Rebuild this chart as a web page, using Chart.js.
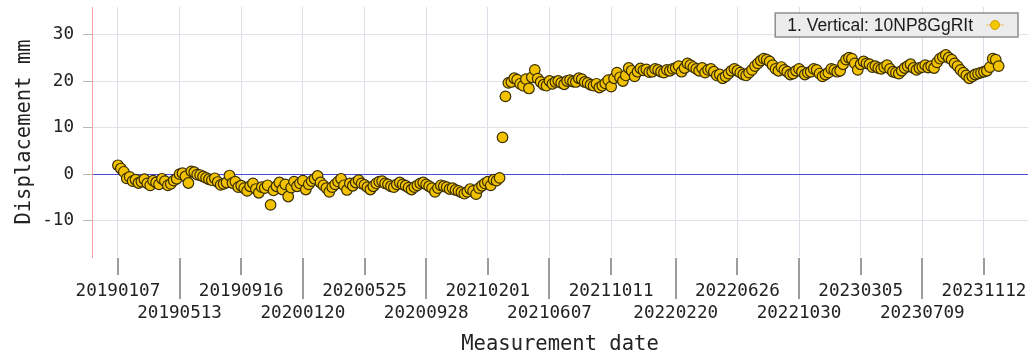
<!DOCTYPE html>
<html>
<head>
<meta charset="utf-8">
<title>Displacement – 10NP8GgRIt</title>
<script src="https://cdn.jsdelivr.net/npm/chart.js@4.4.4/dist/chart.umd.min.js"></script>
<style>
    html, body { margin: 0; padding: 0; background: #fff; }
    #wrap { position: relative; width: 1028px; height: 357px; }
</style>
</head>
<body>
<div id="wrap"><canvas id="chart-displacement"></canvas></div>
<script>
// ─── Data ────────────────────────────────────────────────────────────────────

const SERIES_LABEL = '1. Vertical: 10NP8GgRIt';

// acquisition dates (YYYYMMDD), 6-day revisit
const DATES = [
    // 2019
    '20190107', '20190113', '20190119', '20190125', '20190131',
    '20190206', '20190212', '20190218', '20190224',
    '20190302', '20190308', '20190314', '20190320', '20190326',
    '20190401', '20190407', '20190413', '20190419', '20190425',
    '20190501', '20190507', '20190513', '20190519', '20190525', '20190531',
    '20190606', '20190612', '20190618', '20190624', '20190630',
    '20190706', '20190712', '20190718', '20190724', '20190730',
    '20190805', '20190811', '20190817', '20190823', '20190829',
    '20190904', '20190910', '20190916', '20190922', '20190928',
    '20191004', '20191010', '20191016', '20191022', '20191028',
    '20191103', '20191109', '20191115', '20191121', '20191127',
    '20191203', '20191209', '20191215', '20191221', '20191227',
    // 2020
    '20200102', '20200108', '20200114', '20200120', '20200126',
    '20200201', '20200207', '20200213', '20200219', '20200225',
    '20200302', '20200308', '20200314', '20200320', '20200326',
    '20200401', '20200407', '20200413', '20200419', '20200425',
    '20200501', '20200507', '20200513', '20200519', '20200525', '20200531',
    '20200606', '20200612', '20200618', '20200624', '20200630',
    '20200706', '20200712', '20200718', '20200724', '20200730',
    '20200805', '20200811', '20200817', '20200823', '20200829',
    '20200904', '20200910', '20200916', '20200922', '20200928',
    '20201004', '20201010', '20201016', '20201022', '20201028',
    '20201103', '20201109', '20201115', '20201121', '20201127',
    '20201203', '20201209', '20201215', '20201221', '20201227',
    // 2021
    '20210102', '20210108', '20210114', '20210120', '20210126',
    '20210201', '20210207', '20210213', '20210219', '20210225',
    '20210303', '20210309', '20210315', '20210321', '20210327',
    '20210402', '20210408', '20210414', '20210420', '20210426',
    '20210502', '20210508', '20210514', '20210520', '20210526',
    '20210601', '20210607', '20210613', '20210619', '20210625',
    '20210701', '20210707', '20210713', '20210719', '20210725', '20210731',
    '20210806', '20210812', '20210818', '20210824', '20210830',
    '20210905', '20210911', '20210917', '20210923', '20210929',
    '20211005', '20211011', '20211017', '20211023', '20211029',
    '20211104', '20211110', '20211116', '20211122', '20211128',
    '20211204', '20211210', '20211216', '20211222', '20211228',
    // 2022
    '20220103', '20220109', '20220115', '20220121', '20220127',
    '20220202', '20220208', '20220214', '20220220', '20220226',
    '20220304', '20220310', '20220316', '20220322', '20220328',
    '20220403', '20220409', '20220415', '20220421', '20220427',
    '20220503', '20220509', '20220515', '20220521', '20220527',
    '20220602', '20220608', '20220614', '20220620', '20220626',
    '20220702', '20220708', '20220714', '20220720', '20220726',
    '20220801', '20220807', '20220813', '20220819', '20220825', '20220831',
    '20220906', '20220912', '20220918', '20220924', '20220930',
    '20221006', '20221012', '20221018', '20221024', '20221030',
    '20221105', '20221111', '20221117', '20221123', '20221129',
    '20221205', '20221211', '20221217', '20221223', '20221229',
    // 2023
    '20230104', '20230110', '20230116', '20230122', '20230128',
    '20230203', '20230209', '20230215', '20230221', '20230227',
    '20230305', '20230311', '20230317', '20230323', '20230329',
    '20230404', '20230410', '20230416', '20230422', '20230428',
    '20230504', '20230510', '20230516', '20230522', '20230528',
    '20230603', '20230609', '20230615', '20230621', '20230627',
    '20230703', '20230709', '20230715', '20230721', '20230727',
    '20230802', '20230808', '20230814', '20230820', '20230826',
    '20230901', '20230907', '20230913', '20230919', '20230925',
    '20231001', '20231007', '20231013', '20231019', '20231025', '20231031',
    '20231106', '20231112', '20231118', '20231124', '20231130',
    '20231206', '20231212'
];

// vertical displacement (mm), one per date
const VERTICAL_MM = [
    // 2019
    1.9, 1.2, 0.5, -0.9, -0.6,
    -1.5, -1.2, -1.9, -1.6,
    -1.1, -2.0, -2.4, -1.4, -1.8,
    -2.2, -1.0, -1.5, -2.4, -2.1,
    -1.4, -1.0, 0.0, 0.2, -0.5, -1.9,
    0.6, 0.4, -0.1, -0.2, -0.5,
    -0.8, -1.1, -1.3, -0.9, -1.7,
    -2.3, -2.1, -1.8, -0.3, -1.9,
    -1.6, -2.8, -2.5, -3.0, -3.6,
    -2.6, -2.0, -3.2, -4.0, -2.8,
    -3.0, -2.4, -6.6, -3.5, -2.6,
    -1.8, -3.3, -2.2, -4.8, -2.9,
    // 2020
    -1.6, -2.6, -2.0, -1.4, -3.3,
    -2.2, -1.5, -1.0, -0.4, -1.8,
    -2.4, -3.0, -3.8, -2.8, -2.2,
    -1.6, -1.0, -2.4, -3.4, -2.0,
    -2.5, -1.8, -1.3, -2.0, -2.3, -2.8,
    -3.3, -2.6, -2.0, -1.6, -1.5,
    -2.0, -2.2, -2.6, -2.8, -2.2,
    -1.8, -2.2, -2.5, -2.9, -3.3,
    -2.8, -2.4, -2.0, -1.8, -2.2,
    -2.6, -3.0, -3.8, -3.0, -2.4,
    -2.6, -2.8, -3.2, -3.0, -3.4,
    -3.6, -3.9, -4.2, -3.8, -3.2,
    // 2021
    -3.6, -4.3, -3.0, -2.5, -2.0,
    -1.6, -2.4, -1.2, -1.4, -0.8,
    7.9, 16.7, 19.6, 19.8, 20.6,
    20.3, 19.4, 19.0, 20.4, 18.4,
    20.8, 22.4, 20.5, 19.8, 19.2,
    19.0, 20.0, 19.4, 19.8, 20.0,
    19.6, 19.3, 20.0, 20.2, 19.9, 19.8,
    20.6, 20.4, 19.8, 19.6, 19.2,
    19.0, 19.4, 18.6, 19.0, 19.5,
    20.2, 18.8, 20.6, 21.8, 20.8,
    20.0, 21.2, 22.8, 22.2, 21.0,
    22.0, 22.7, 22.3, 22.5, 21.9,
    // 2022
    22.0, 22.6, 22.4, 22.0, 21.8,
    22.4, 22.2, 22.6, 22.8, 23.2,
    22.0, 22.8, 23.8, 23.4, 23.0,
    22.6, 22.2, 22.8, 21.8, 22.4,
    22.6, 22.0, 21.2, 21.4, 20.6,
    21.0, 21.6, 22.2, 22.6, 22.2,
    21.8, 21.4, 21.2, 21.8, 22.4,
    23.2, 23.8, 24.4, 24.8, 24.6, 24.2,
    23.4, 22.6, 22.2, 23.0, 22.4,
    22.0, 21.4, 21.6, 22.2, 22.6,
    22.0, 21.4, 21.8, 22.0, 22.6,
    22.4, 21.6, 21.0, 21.4, 21.8,
    // 2023
    22.6, 22.4, 22.0, 22.2, 23.6,
    24.6, 25.0, 24.8, 23.8, 22.4,
    23.6, 24.2, 23.8, 23.6, 23.0,
    23.2, 22.8, 22.6, 23.0, 23.4,
    22.6, 22.0, 21.8, 21.6, 22.2,
    22.8, 23.2, 23.6, 22.8, 22.4,
    22.8, 23.0, 23.4, 22.9, 23.2,
    22.8, 24.0, 24.8, 25.2, 25.6,
    25.0, 24.6, 23.8, 23.2, 22.4,
    21.8, 21.2, 20.6, 21.0, 21.4, 21.6,
    21.8, 22.0, 22.2, 23.0, 24.8,
    24.6, 23.2
];

// x tick labels (every 126 days), drawn in two alternating rows
const TICK_DATES = [
    '20190107', '20190513', '20190916', '20200120', '20200525', '20200928', '20210201', '20210607',
    '20211011', '20220220', '20220626', '20221030', '20230305', '20230709', '20231112'
];

const Y_TICKS = [-10, 0, 10, 20, 30];

// axis ranges
const X_RANGE = ['20181115', '20240210'];
const Y_MIN = -17.8;
const Y_MAX = 35.9;

// ─── Helpers ─────────────────────────────────────────────────────────────────

const MONO_FAMILY = "'DejaVu Sans Mono', monospace";
const TICK_FONT = { family: MONO_FAMILY, size: 17.6, lineHeight: 1.3 };
const TITLE_FONT = { family: MONO_FAMILY, size: 20.5, lineHeight: 1.2 };
const TEXT_COLOR = '#222';

// days since epoch for a YYYYMMDD string
function dayOf(s) {
    const y = +s.slice(0, 4), m = +s.slice(4, 6), d = +s.slice(6, 8);
    return Date.UTC(y, m - 1, d) / 86400000;
}

// ─── Plugins ─────────────────────────────────────────────────────────────────

// tick marks under the plot: short for the top row, long for the bottom row
const dateTickMarks = {
    id: 'dateTickMarks',
    afterDraw(chart) {
        const { ctx, chartArea } = chart;
        const scale = chart.scales.x;
        ctx.save();
        ctx.strokeStyle = '#9c9c9c';
        ctx.lineWidth = 2;
        scale.ticks.forEach((t, i) => {
            const x = Math.round(scale.getPixelForValue(t.value));
            ctx.beginPath();
            ctx.moveTo(x, chartArea.bottom + 1);
            ctx.lineTo(x, chartArea.bottom + (i % 2 ? 42 : 18));
            ctx.stroke();
        });
        ctx.restore();
    }
};

// legend box in the top right corner, marker after the text
const legendBox = {
    id: 'legendBox',
    afterDatasetsDraw(chart) {
        const { ctx, chartArea } = chart;
        const ds = chart.data.datasets[0];
        ctx.save();
        ctx.font = "17.5px 'Liberation Sans', Arial, sans-serif";
        const tw = ctx.measureText(ds.label).width;
        const right = chartArea.right - 10;
        const top = chartArea.top + 6;
        const w = 12 + tw + 45, h = 24;
        const left = right - w;

        ctx.fillStyle = '#ececec';
        ctx.fillRect(left, top, w, h);
        ctx.strokeStyle = '#8e8e8e';
        ctx.lineWidth = 1.5;
        ctx.strokeRect(left, top, w, h);

        ctx.fillStyle = '#1c1c1c';
        ctx.textBaseline = 'middle';
        ctx.fillText(ds.label, left + 12, top + h / 2 + 1);

        const mx = left + 12 + tw + 22, my = top + h / 2;
        ctx.strokeStyle = '#f3cf95';
        ctx.lineWidth = 1.5;
        ctx.beginPath();
        ctx.moveTo(mx - 9, my);
        ctx.lineTo(mx + 9, my);
        ctx.stroke();
        ctx.beginPath();
        ctx.arc(mx, my, 4.5, 0, Math.PI * 2);
        ctx.fillStyle = '#f4c800';
        ctx.fill();
        ctx.strokeStyle = '#d49a00';
        ctx.lineWidth = 1;
        ctx.stroke();
        ctx.restore();
    }
};

// ─── Chart ───────────────────────────────────────────────────────────────────

function renderChart() {
    const el = document.getElementById('chart-displacement');
    new Chart(el, {
        type: 'scatter',
        data: {
            datasets: [{
                label: SERIES_LABEL,
                data: DATES.map((d, i) => ({ x: dayOf(d), y: VERTICAL_MM[i] })),
                backgroundColor: '#f2c200',
                borderColor: '#3a2e00',
                borderWidth: 1.2,
                pointRadius: 5.3,
                showLine: false
            }]
        },
        options: {
            responsive: true,
            maintainAspectRatio: false,
            animation: false,
            layout: { autoPadding: false, padding: { top: 7, right: 0, bottom: 0, left: 0 } },
            plugins: {
                legend: { display: false },
                tooltip: { enabled: false }
            },
            scales: {
                x: {
                    type: 'linear',
                    min: dayOf(X_RANGE[0]),
                    max: dayOf(X_RANGE[1]),
                    border: { display: false },
                    grid: { color: '#dedee8', drawTicks: false },
                    ticks: {
                        autoSkip: false,
                        maxRotation: 0,
                        minRotation: 0,
                        padding: 22.5,
                        color: TEXT_COLOR,
                        font: TICK_FONT,
                        callback: (v, i) => i % 2 ? ['', TICK_DATES[i]] : [TICK_DATES[i], '']
                    },
                    afterBuildTicks: s => { s.ticks = TICK_DATES.map(d => ({ value: dayOf(d) })); },
                    afterFit: s => { s.height = 100; s.paddingLeft = 0; s.paddingRight = 0; },
                    title: {
                        display: true,
                        text: 'Measurement date',
                        color: TEXT_COLOR,
                        font: TITLE_FONT,
                        padding: { top: 0, bottom: 0 }
                    }
                },
                y: {
                    min: Y_MIN,
                    max: Y_MAX,
                    border: { display: true, color: '#f3a6a6', width: 1 },
                    grid: {
                        color: c => (c.tick && c.tick.value === 0) ? '#4a4ad6' : '#e2e2ea',
                        tickColor: '#b8b8b8',
                        tickLength: 9
                    },
                    ticks: { padding: 9, color: TEXT_COLOR, font: TICK_FONT },
                    afterBuildTicks: s => { s.ticks = Y_TICKS.map(v => ({ value: v })); },
                    afterFit: s => { s.width = 92; s.paddingTop = 0; s.paddingBottom = 0; },
                    title: {
                        display: true,
                        text: 'Displacement mm',
                        color: TEXT_COLOR,
                        font: TITLE_FONT,
                        padding: { top: 12, bottom: 0 }
                    }
                }
            }
        },
        plugins: [dateTickMarks, legendBox]
    });
}

renderChart();
</script>
</body>
</html>
